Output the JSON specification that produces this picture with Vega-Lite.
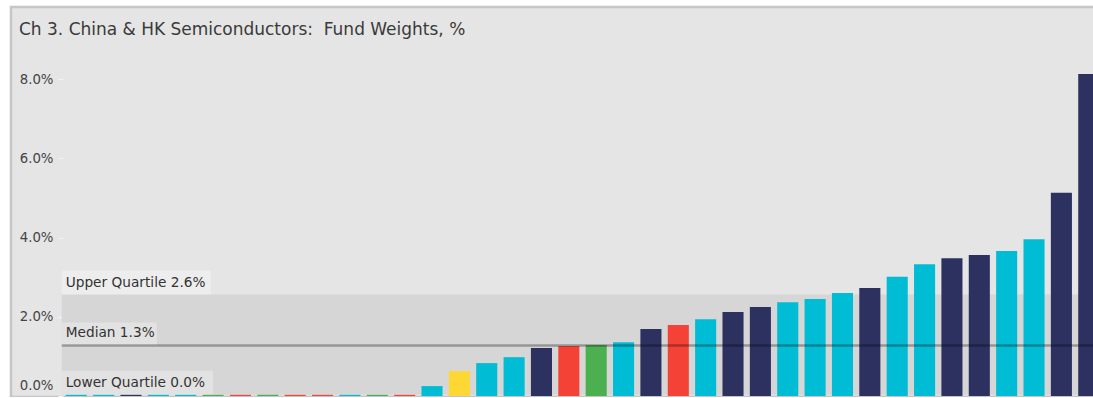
{
  "$schema": "https://vega.github.io/schema/vega-lite/v6.json",
  "width": 1088.3,
  "height": 390,
  "autosize": {"type": "none"},
  "padding": {"left": 11, "top": 7, "right": 0, "bottom": 0},
  "background": "white",
  "title": {
    "text": "Ch 3. China & HK Semiconductors:\u00a0 Fund Weights, %",
    "anchor": "start", "frame": "group", "orient": "top", "offset": 0,
    "dx": 8, "dy": 45, "baseline": "alphabetic",
    "font": "DejaVu Sans", "fontSize": 17, "fontWeight": "normal", "color": "#3a3a3a"
  },
  "data": {
    "values": [
      {"rank": 1, "weight": 0.03, "group": "A"},
      {"rank": 2, "weight": 0.03, "group": "A"},
      {"rank": 3, "weight": 0.03, "group": "B"},
      {"rank": 4, "weight": 0.03, "group": "A"},
      {"rank": 5, "weight": 0.03, "group": "A"},
      {"rank": 6, "weight": 0.03, "group": "D"},
      {"rank": 7, "weight": 0.03, "group": "C"},
      {"rank": 8, "weight": 0.03, "group": "D"},
      {"rank": 9, "weight": 0.03, "group": "C"},
      {"rank": 10, "weight": 0.03, "group": "C"},
      {"rank": 11, "weight": 0.03, "group": "A"},
      {"rank": 12, "weight": 0.03, "group": "D"},
      {"rank": 13, "weight": 0.03, "group": "C"},
      {"rank": 14, "weight": 0.25, "group": "A"},
      {"rank": 15, "weight": 0.63, "group": "E"},
      {"rank": 16, "weight": 0.83, "group": "A"},
      {"rank": 17, "weight": 0.98, "group": "A"},
      {"rank": 18, "weight": 1.21, "group": "B"},
      {"rank": 19, "weight": 1.26, "group": "C"},
      {"rank": 20, "weight": 1.29, "group": "D"},
      {"rank": 21, "weight": 1.36, "group": "A"},
      {"rank": 22, "weight": 1.69, "group": "B"},
      {"rank": 23, "weight": 1.79, "group": "C"},
      {"rank": 24, "weight": 1.94, "group": "A"},
      {"rank": 25, "weight": 2.12, "group": "B"},
      {"rank": 26, "weight": 2.25, "group": "B"},
      {"rank": 27, "weight": 2.37, "group": "A"},
      {"rank": 28, "weight": 2.45, "group": "A"},
      {"rank": 29, "weight": 2.60, "group": "A"},
      {"rank": 30, "weight": 2.73, "group": "B"},
      {"rank": 31, "weight": 3.01, "group": "A"},
      {"rank": 32, "weight": 3.33, "group": "A"},
      {"rank": 33, "weight": 3.48, "group": "B"},
      {"rank": 34, "weight": 3.56, "group": "B"},
      {"rank": 35, "weight": 3.66, "group": "A"},
      {"rank": 36, "weight": 3.96, "group": "A"},
      {"rank": 37, "weight": 5.13, "group": "B"},
      {"rank": 38, "weight": 8.13, "group": "B"}
    ]
  },
  "layer": [
    {
      "transform": [
        {"aggregate": [
          {"op": "q1", "field": "weight", "as": "q1"},
          {"op": "median", "field": "weight", "as": "med"},
          {"op": "q3", "field": "weight", "as": "q3"}
        ]}
      ],
      "layer": [
        {
          "mark": {"type": "rect", "color": "#d6d6d6", "clip": true},
          "encoding": {
            "x": {"datum": 1, "type": "ordinal", "bandPosition": -0.19},
            "x2": {"datum": 38, "bandPosition": 3},
            "y": {"field": "q1", "type": "quantitative"},
            "y2": {"field": "q3"}
          }
        },
        {
          "mark": {"type": "rect", "color": "white", "opacity": 0.3, "y2Offset": -24},
          "encoding": {
            "x": {"datum": 1, "type": "ordinal", "bandPosition": -0.19},
            "x2": {"datum": 6, "bandPosition": 0.4},
            "y": {"field": "q3", "type": "quantitative"},
            "y2": {"field": "q3"}
          }
        },
        {
          "mark": {"type": "rect", "color": "white", "opacity": 0.3, "y2Offset": -23},
          "encoding": {
            "x": {"datum": 1, "type": "ordinal", "bandPosition": -0.19},
            "x2": {"datum": 4, "bandPosition": 0.43},
            "y": {"field": "med", "type": "quantitative"},
            "y2": {"field": "med"}
          }
        },
        {
          "mark": {"type": "rect", "color": "white", "opacity": 0.3, "y2Offset": -24},
          "encoding": {
            "x": {"datum": 1, "type": "ordinal", "bandPosition": -0.19},
            "x2": {"datum": 6, "bandPosition": 0.5},
            "y": {"field": "q1", "type": "quantitative"},
            "y2": {"field": "q1"}
          }
        }
      ]
    },
    {
      "mark": {"type": "bar"},
      "encoding": {
        "x": {
          "field": "rank", "type": "ordinal",
          "scale": {
            "domain": [1,2,3,4,5,6,7,8,9,10,11,12,13,14,15,16,17,18,19,20,21,22,23,24,25,26,27,28,29,30,31,32,33,34,35,36,37,38],
            "paddingInner": 0.23, "paddingOuter": 1.0245, "align": 1
          }
        },
        "y": {
          "field": "weight", "type": "quantitative",
          "scale": {"domain": [-0.025, 9.823], "nice": false, "zero": false},
          "axis": {
            "values": [0, 2, 4, 6, 8],
            "labelExpr": "format(datum.value, '.1f') + '%'",
            "offset": -52, "domain": false, "grid": false,
            "tickColor": "#f4f4f4", "tickSize": 5, "labelPadding": 5,
            "labelFont": "DejaVu Sans", "labelFontSize": 13.3, "labelColor": "#444444",
            "labelFlush": 2, "labelFlushOffset": -4, "title": null
          }
        },
        "color": {
          "field": "group", "type": "nominal",
          "scale": {"domain": ["A", "B", "C", "D", "E"], "range": ["#00BCD4", "#2C3160", "#F44336", "#4CAF50", "#FDD835"]},
          "legend": null
        }
      }
    },
    {
      "transform": [
        {"aggregate": [
          {"op": "q1", "field": "weight", "as": "q1"},
          {"op": "median", "field": "weight", "as": "med"},
          {"op": "q3", "field": "weight", "as": "q3"}
        ]},
        {"calculate": "'Upper Quartile ' + format(datum.q3, '.1f') + '%'", "as": "lu"},
        {"calculate": "'Median ' + format(datum.med, '.1f') + '%'", "as": "lm"},
        {"calculate": "'Lower Quartile ' + format(datum.q1, '.1f') + '%'", "as": "ll"}
      ],
      "layer": [
        {
          "mark": {"type": "rule", "color": "black", "opacity": 0.3, "strokeWidth": 2.5, "clip": true},
          "encoding": {
            "x": {"datum": 1, "type": "ordinal", "bandPosition": -0.19},
            "x2": {"datum": 38, "bandPosition": 3},
            "y": {"field": "med", "type": "quantitative"}
          }
        },
        {
          "mark": {"type": "text", "align": "left", "baseline": "alphabetic", "dy": -8, "font": "DejaVu Sans", "fontSize": 13.7, "color": "#333333"},
          "encoding": {
            "x": {"datum": 1, "type": "ordinal", "bandPosition": 0},
            "y": {"field": "q3", "type": "quantitative"},
            "text": {"field": "lu"}
          }
        },
        {
          "mark": {"type": "text", "align": "left", "baseline": "alphabetic", "dy": -9, "font": "DejaVu Sans", "fontSize": 13.7, "color": "#333333"},
          "encoding": {
            "x": {"datum": 1, "type": "ordinal", "bandPosition": 0},
            "y": {"field": "med", "type": "quantitative"},
            "text": {"field": "lm"}
          }
        },
        {
          "mark": {"type": "text", "align": "left", "baseline": "alphabetic", "dy": -8, "font": "DejaVu Sans", "fontSize": 13.7, "color": "#333333"},
          "encoding": {
            "x": {"datum": 1, "type": "ordinal", "bandPosition": 0},
            "y": {"field": "q1", "type": "quantitative"},
            "text": {"field": "ll"}
          }
        }
      ]
    }
  ],
  "config": {
    "view": {"fill": "#e5e5e5", "stroke": "#c6c6c6", "strokeWidth": 2.5},
    "axisX": {"disable": true}
  }
}
